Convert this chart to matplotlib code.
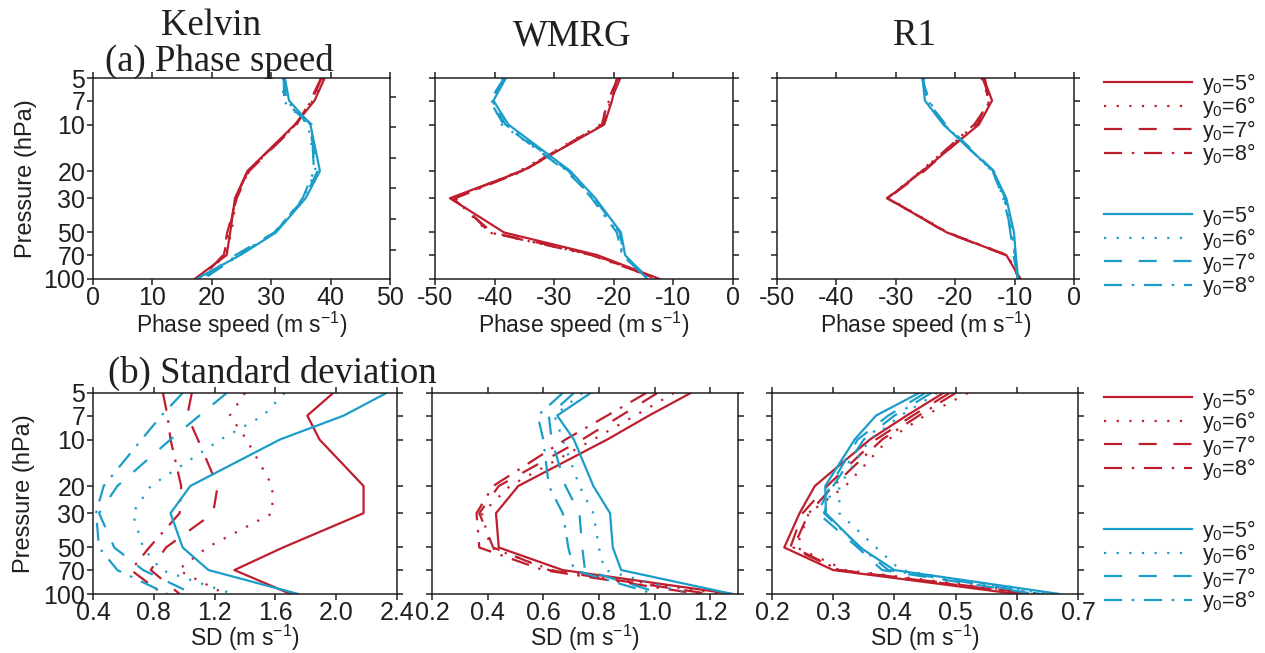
import matplotlib
matplotlib.use("Agg")
import matplotlib.pyplot as plt

plt.rcParams['font.family'] = ['Liberation Sans', 'DejaVu Sans']
plt.rcParams['mathtext.fontset'] = 'custom'
plt.rcParams['mathtext.rm'] = 'Liberation Sans'
plt.rcParams['mathtext.it'] = 'Liberation Sans:italic'
plt.rcParams['axes.unicode_minus'] = False
plt.rcParams['lines.scale_dashes'] = False

# ---------------- data ----------------
pressure = [5, 7, 10, 20, 30, 50, 70, 100]
y0_labels = ['y$_0$=5°', 'y$_0$=6°', 'y$_0$=7°', 'y$_0$=8°']

# (a) phase speed
kelvin_cp_red = [
    [39.0, 37.3, 34.0, 26.0, 23.9, 23.1, 22.5, 17.1],
    [38.7, 37.0, 34.2, 26.2, 24.1, 23.3, 22.2, 17.6],
    [38.4, 36.6, 34.3, 26.3, 24.2, 22.6, 21.9, 18.2],
    [38.5, 36.8, 34.1, 26.1, 24.0, 22.9, 22.0, 18.8],
]
kelvin_cp_blue = [
    [32.3, 33.0, 36.6, 38.2, 35.8, 30.8, 24.8, 17.4],
    [32.0, 32.0, 36.2, 37.5, 35.4, 30.6, 24.4, 17.8],
    [32.1, 32.2, 36.4, 37.8, 35.6, 30.5, 24.0, 18.2],
    [32.2, 32.5, 36.8, 37.2, 35.3, 30.7, 24.6, 18.6],
]
wmrg_cp_red = [
    [-19.5, -20.3, -21.6, -35.4, -47.5, -38.4, -22.8, -12.3],
    [-19.0, -20.8, -22.2, -35.8, -46.8, -41.0, -23.5, -12.6],
    [-19.3, -21.0, -22.0, -35.6, -47.0, -40.4, -23.2, -12.8],
    [-18.9, -20.5, -21.8, -35.2, -46.6, -40.8, -23.8, -12.5],
]
wmrg_cp_blue = [
    [-38.1, -40.2, -37.7, -27.3, -23.1, -18.8, -18.1, -14.4],
    [-38.6, -40.5, -38.8, -27.8, -23.5, -19.3, -18.5, -14.2],
    [-38.4, -40.8, -38.5, -28.0, -23.3, -19.0, -18.3, -14.0],
    [-38.3, -40.4, -38.2, -27.6, -23.7, -19.5, -18.6, -14.3],
]
r1_cp_red = [
    [-15.2, -13.8, -16.0, -25.5, -31.4, -21.4, -11.4, -9.0],
    [-15.6, -14.2, -16.6, -25.8, -31.2, -21.2, -11.2, -9.1],
    [-15.0, -14.5, -16.3, -25.2, -31.3, -21.5, -11.5, -9.0],
    [-15.4, -14.0, -16.8, -25.6, -31.5, -21.3, -11.3, -9.2],
]
r1_cp_blue = [
    [-25.5, -25.1, -22.0, -13.6, -11.4, -10.1, -9.8, -9.4],
    [-25.3, -24.6, -21.8, -13.8, -11.8, -10.4, -10.0, -9.5],
    [-25.4, -24.8, -21.6, -13.5, -11.6, -10.7, -10.2, -9.4],
    [-25.6, -24.4, -21.9, -13.7, -11.9, -10.5, -9.9, -9.5],
]

# (b) standard deviation
kelvin_sd_red = [
    [1.98, 1.81, 1.89, 2.18, 2.18, 1.65, 1.33, 1.70],
    [1.40, 1.30, 1.41, 1.58, 1.58, 1.15, 0.96, 1.27],
    [1.05, 1.02, 1.09, 1.22, 1.19, 0.88, 0.78, 0.97],
    [0.86, 0.89, 0.91, 0.98, 0.97, 0.77, 0.65, 0.86],
]
kelvin_sd_blue = [
    [2.33, 2.05, 1.63, 1.04, 0.91, 0.99, 1.16, 1.75],
    [1.66, 1.52, 1.24, 0.78, 0.66, 0.73, 0.85, 1.32],
    [1.28, 1.10, 0.91, 0.56, 0.44, 0.54, 0.73, 1.06],
    [0.99, 0.85, 0.72, 0.47, 0.42, 0.44, 0.56, 0.89],
]
wmrg_sd_red = [
    [1.13, 0.98, 0.83, 0.51, 0.43, 0.44, 0.67, 1.28],
    [1.07, 0.93, 0.78, 0.48, 0.38, 0.41, 0.63, 1.25],
    [1.01, 0.88, 0.74, 0.44, 0.37, 0.42, 0.62, 1.20],
    [0.97, 0.83, 0.68, 0.42, 0.36, 0.37, 0.60, 1.16],
]
wmrg_sd_blue = [
    [0.77, 0.65, 0.71, 0.78, 0.84, 0.85, 0.88, 1.28],
    [0.74, 0.64, 0.67, 0.73, 0.78, 0.80, 0.82, 1.13],
    [0.71, 0.62, 0.63, 0.68, 0.73, 0.74, 0.75, 1.03],
    [0.67, 0.58, 0.60, 0.62, 0.67, 0.69, 0.71, 1.00],
]
r1_sd_red = [
    [0.48, 0.42, 0.36, 0.27, 0.245, 0.22, 0.30, 0.60],
    [0.52, 0.45, 0.39, 0.32, 0.26, 0.24, 0.32, 0.64],
    [0.49, 0.43, 0.37, 0.29, 0.25, 0.23, 0.31, 0.62],
    [0.50, 0.44, 0.38, 0.30, 0.26, 0.235, 0.31, 0.63],
]
r1_sd_blue = [
    [0.44, 0.37, 0.335, 0.287, 0.288, 0.344, 0.40, 0.67],
    [0.47, 0.41, 0.36, 0.31, 0.31, 0.37, 0.41, 0.65],
    [0.45, 0.39, 0.34, 0.295, 0.275, 0.34, 0.38, 0.63],
    [0.46, 0.40, 0.35, 0.30, 0.285, 0.345, 0.39, 0.64],
]

kelvin_right_ticks = [6.6, 10.4, 16.5, 25.7, 40.8, 65.0]

# ---------------- style ----------------
RED = '#BE1E2D'
BLUE = '#1B9DC9'
INK = '#231F20'
LW = 1.6
styles = ['-', (0, (1.6, 7.5)), (0, (13, 12)), (0, (13, 7, 1.8, 7))]

W, H = 1265, 653
fig = plt.figure(figsize=(W / 100, H / 100), dpi=100)


def px_axes(l, t, r, b):
    return fig.add_axes([l / W, 1 - b / H, (r - l) / W, (b - t) / H])


def style_axes(ax, xlim, xticks, xticklabels, ylabels=True):
    ax.set_yscale('log')
    ax.set_ylim(100, 5)
    ax.set_yticks(pressure)
    ax.set_yticklabels([str(p) for p in pressure] if ylabels else [])
    ax.minorticks_off()
    ax.set_xlim(*xlim)
    ax.set_xticks(xticks)
    ax.set_xticklabels(xticklabels)
    for s in ax.spines.values():
        s.set_linewidth(1.1)
        s.set_color(INK)
    ax.tick_params(axis='both', which='both', direction='out', length=4.5, width=1.1,
                   top=True, right=True, labelsize=18, colors=INK)
    ax.tick_params(axis='y', pad=1)
    ax.tick_params(axis='x', pad=0.5)


def draw(ax, reds, blues):
    for vals, ls in zip(reds, styles):
        ax.plot(vals, pressure, color=RED, lw=LW, linestyle=ls)
    for vals, ls in zip(blues, styles):
        ax.plot(vals, pressure, color=BLUE, lw=LW, linestyle=ls)


cp_label = 'Phase speed (m s$^{-1}$)'
sd_label = 'SD (m s$^{-1}$)'

# top row
ax1 = px_axes(93, 78, 390, 279)
draw(ax1, kelvin_cp_red, kelvin_cp_blue)
style_axes(ax1, (0, 50), [0, 10, 20, 30, 40, 50], ['0', '10', '20', '30', '40', '50'])
ax1.tick_params(axis='y', right=False)
axr = ax1.twinx()
axr.set_yscale('log')
axr.set_ylim(100, 5)
axr.set_yticks(kelvin_right_ticks)
axr.set_yticklabels([])
axr.minorticks_off()
axr.tick_params(axis='y', direction='out', length=4.5, width=1.1, colors=INK)
for s in axr.spines.values():
    s.set_visible(False)

ax2 = px_axes(435, 78, 733, 279)
draw(ax2, wmrg_cp_red, wmrg_cp_blue)
style_axes(ax2, (-50, 0), [-50, -40, -30, -20, -10, 0],
           ['-50', '-40', '-30', '-20', '-10', '0'], ylabels=False)

ax3 = px_axes(777, 78, 1074, 279)
draw(ax3, r1_cp_red, r1_cp_blue)
style_axes(ax3, (-50, 0), [-50, -40, -30, -20, -10, 0],
           ['-50', '-40', '-30', '-20', '-10', '0'], ylabels=False)

# bottom row
ax4 = px_axes(93, 393, 397, 594)
draw(ax4, kelvin_sd_red, kelvin_sd_blue)
style_axes(ax4, (0.4, 2.4), [0.4, 0.8, 1.2, 1.6, 2.0, 2.4],
           ['0.4', '0.8', '1.2', '1.6', '2.0', '2.4'])

ax5 = px_axes(432, 393, 738, 594)
draw(ax5, wmrg_sd_red, wmrg_sd_blue)
style_axes(ax5, (0.2, 1.3), [0.2, 0.4, 0.6, 0.8, 1.0, 1.2],
           ['0.2', '0.4', '0.6', '0.8', '1.0', '1.2'], ylabels=False)

ax6 = px_axes(772, 393, 1078, 594)
draw(ax6, r1_sd_red, r1_sd_blue)
style_axes(ax6, (0.2, 0.7), [0.2, 0.3, 0.4, 0.5, 0.6, 0.7],
           ['0.2', '0.3', '0.4', '0.5', '0.6', '0.7'], ylabels=False)

for ax in (ax1, ax2, ax3):
    ax.set_xlabel(cp_label, fontsize=16.5, color=INK, labelpad=0)
for ax in (ax4, ax5, ax6):
    ax.set_xlabel(sd_label, fontsize=16.5, color=INK, labelpad=-1.5)
for ax in (ax1, ax4):
    ax.set_ylabel('Pressure (hPa)', fontsize=17, color=INK)
    ax.yaxis.set_label_coords(-0.19, 0.5)

# titles
serif = ['Liberation Serif', 'DejaVu Serif']
TS = 26.5
fig.text(211 / W, 1 - 35 / H, 'Kelvin', family=serif, fontsize=TS, ha='center', va='baseline', color=INK)
fig.text(572 / W, 1 - 45 / H, 'WMRG', family=serif, fontsize=TS, ha='center', va='baseline', color=INK)
fig.text(915 / W, 1 - 45 / H, 'R1', family=serif, fontsize=TS, ha='center', va='baseline', color=INK)
fig.text(105 / W, 1 - 71 / H, '(a) Phase speed', family=serif, fontsize=TS, ha='left', va='baseline', color=INK)
fig.text(108 / W, 1 - 383 / H, '(b) Standard deviation', family=serif, fontsize=TS, ha='left', va='baseline', color=INK)

# legends
def add_legend(ax, top_px):
    lines = ax.get_lines()
    for group, ypx in ((lines[:4], top_px), (lines[4:8], top_px + 132)):
        leg = fig.legend(group, y0_labels, loc='upper left',
                         bbox_to_anchor=(1104 / W, 1 - ypx / H), bbox_transform=fig.transFigure,
                         frameon=False, fontsize=15.5, handlelength=4.1, handletextpad=0.45,
                         labelspacing=-0.12, borderpad=0, borderaxespad=0)
        for t in leg.get_texts():
            t.set_color(INK)

add_legend(ax3, 71)
add_legend(ax6, 386)

fig.savefig('out.png', dpi=100)
